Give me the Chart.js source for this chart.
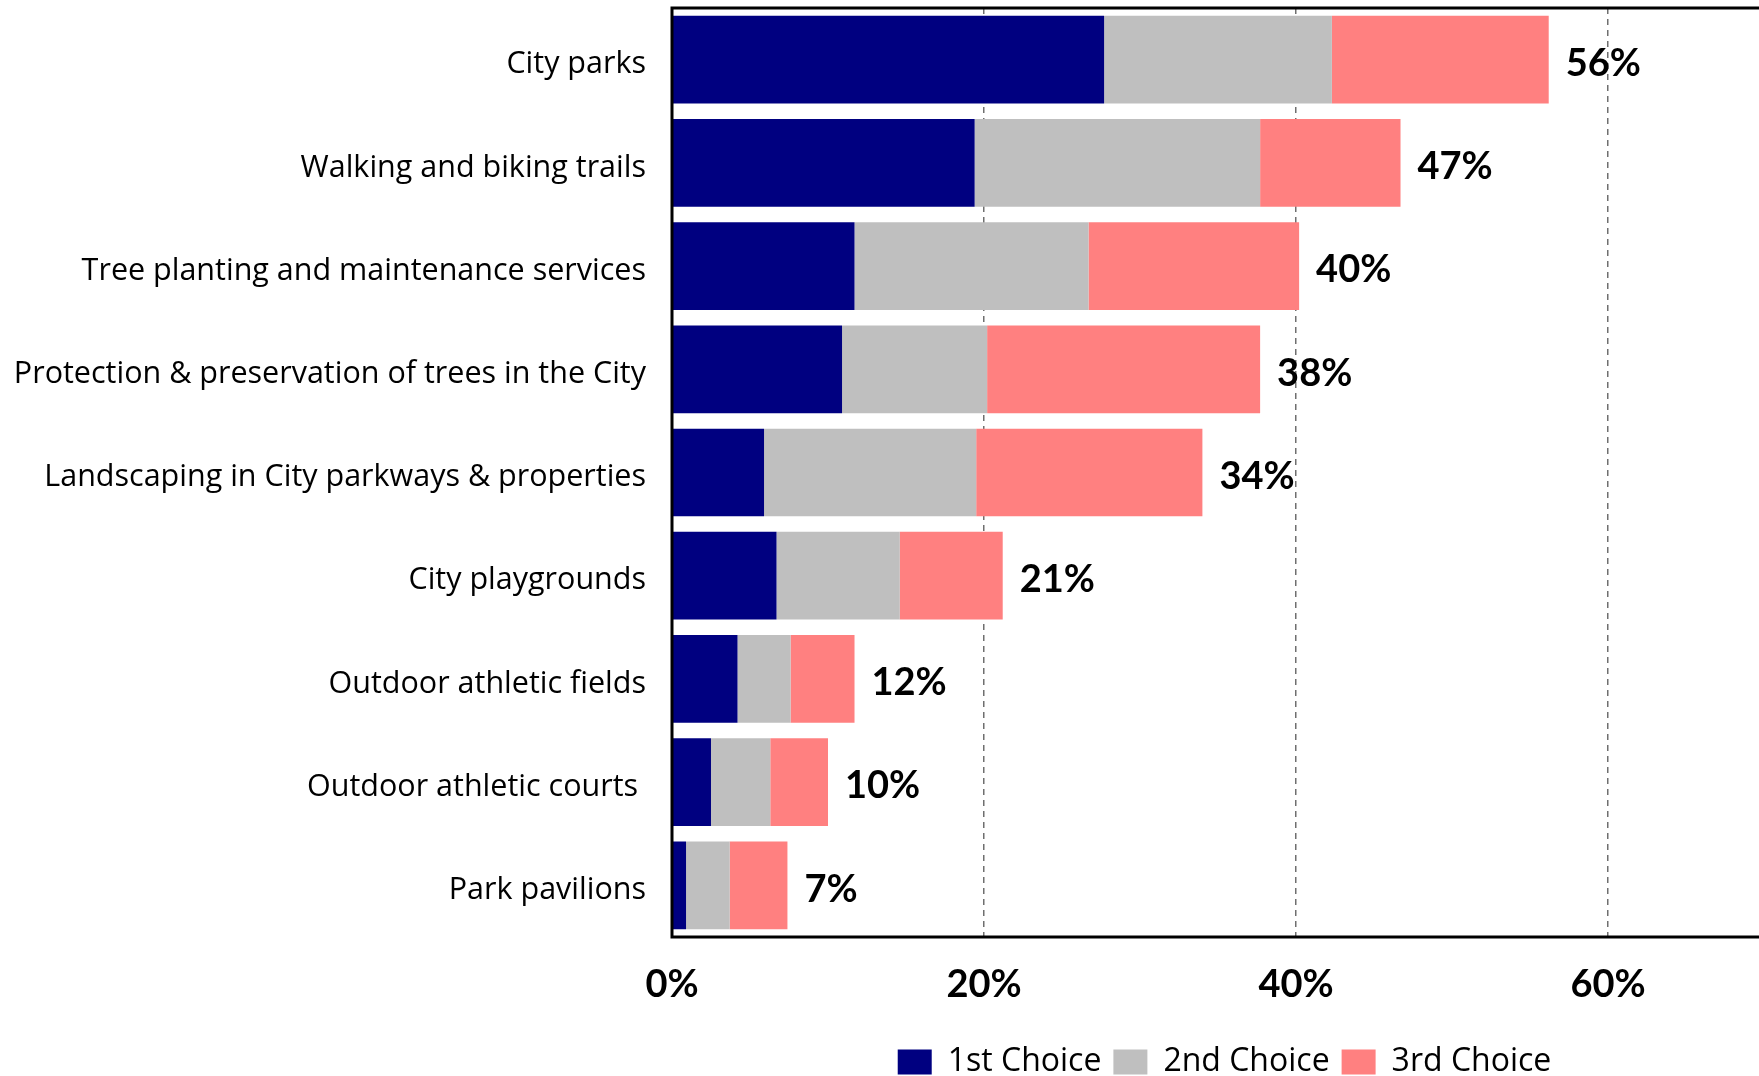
<!DOCTYPE html>
<html>
<head>
<meta charset="utf-8">
<script src="https://cdn.jsdelivr.net/npm/chart.js@4.4.0/dist/chart.umd.min.js"></script>
<style>
    html, body { margin: 0; padding: 0; overflow: hidden; background: #fff; }
    #wrap { position: absolute; left: 0; top: 0; width: 1766px; height: 1076px; }
</style>
</head>
<body>
<div id="wrap"><canvas id="myChart"></canvas></div>
<script>
const categories = [
    "City parks",
    "Walking and biking trails",
    "Tree planting and maintenance services",
    "Protection & preservation of trees in the City",
    "Landscaping in City parkways & properties",
    "City playgrounds",
    "Outdoor athletic fields",
    "Outdoor athletic courts ",
    "Park pavilions"
];
const firstChoice = [27.7, 19.4, 11.7, 10.9, 5.9, 6.7, 4.2, 2.5, 0.9];
const secondChoice = [14.6, 18.3, 15.0, 9.3, 13.6, 7.9, 3.4, 3.8, 2.8];
const thirdChoice = [13.9, 9.0, 13.5, 17.5, 14.5, 6.6, 4.1, 3.7, 3.7];
const totalLabels = ["56%", "47%", "40%", "38%", "34%", "21%", "12%", "10%", "7%"];
const xTicks = [0, 20, 40, 60];

const boldFamily = "Lato, 'Open Sans', sans-serif";
const textFamily = "'Open Sans', Lato, sans-serif";

// black frame round the plot area
const plotBorder = {
    id: 'plotBorder',
    afterDatasetsDraw(chart) {
        const a = chart.chartArea;
        const ctx = chart.ctx;
        ctx.save();
        ctx.strokeStyle = '#000';
        ctx.lineWidth = 3;
        ctx.strokeRect(a.left, a.top, a.right - a.left, a.bottom - a.top);
        ctx.restore();
    }
};

// bold total after each bar
const totals = {
    id: 'totals',
    afterDatasetsDraw(chart) {
        const meta = chart.getDatasetMeta(2);
        const ctx = chart.ctx;
        ctx.save();
        ctx.font = `bold 38px ${boldFamily}`;
        ctx.fillStyle = '#000';
        ctx.textAlign = 'left';
        ctx.textBaseline = 'middle';
        meta.data.forEach((bar, i) => {
            ctx.fillText(totalLabels[i], bar.x + 17, bar.y + 4);
        });
        ctx.restore();
    }
};

// centre the legend under the plot area, not the canvas
const legendUnderPlot = {
    id: 'legendUnderPlot',
    afterLayout(chart) {
        const lg = chart.legend;
        const a = chart.chartArea;
        lg.left = a.left + 13;
        lg.right = a.right;
        lg.top += 12;
        lg.bottom += 12;
    }
};

const ctx = document.getElementById('myChart').getContext('2d');
const chart = new Chart(ctx, {
    type: 'bar',
    data: {
        labels: categories,
        datasets: [
            { label: '1st Choice', data: firstChoice, backgroundColor: '#000080', borderWidth: 0 },
            { label: '2nd Choice', data: secondChoice, backgroundColor: '#BFBFBF', borderWidth: 0 },
            { label: '3rd Choice', data: thirdChoice, backgroundColor: '#FF8080', borderWidth: 0 }
        ]
    },
    options: {
        indexAxis: 'y',
        responsive: true,
        maintainAspectRatio: false,
        animation: false,
        datasets: { bar: { categoryPercentage: 1, barPercentage: 0.85 } },
        layout: { padding: { top: 8, right: 2, left: 0, bottom: 0 } },
        plugins: {
            tooltip: { enabled: false },
            legend: {
                position: 'bottom',
                labels: {
                    boxWidth: 34,
                    boxHeight: 25,
                    padding: 12,
                    color: '#000',
                    font: { family: textFamily, size: 32 }
                }
            }
        },
        scales: {
            x: {
                stacked: true,
                min: 0,
                max: 70,
                afterBuildTicks: (s) => { s.ticks = xTicks.map(v => ({ value: v })); },
                afterFit: (s) => { s.height = 85; },
                grid: { color: '#6f6f6f', lineWidth: 1.5, drawTicks: false },
                border: { display: false, dash: [6, 5] },
                ticks: {
                    padding: 25,
                    color: '#000',
                    font: { family: boldFamily, size: 38, weight: 'bold' },
                    callback: (v) => v + '%'
                }
            },
            y: {
                stacked: true,
                afterFit: (s) => {
                    s.width = 672;
                    s.paddingTop = 0;
                    s.paddingBottom = 0;
                },
                grid: { display: false, drawTicks: false },
                border: { display: false },
                ticks: {
                    padding: 26,
                    labelOffset: 5,
                    color: '#000',
                    autoSkip: false,
                    font: { family: textFamily, size: 30.5 }
                }
            }
        }
    },
    plugins: [plotBorder, totals, legendUnderPlot]
});
</script>
</body>
</html>
